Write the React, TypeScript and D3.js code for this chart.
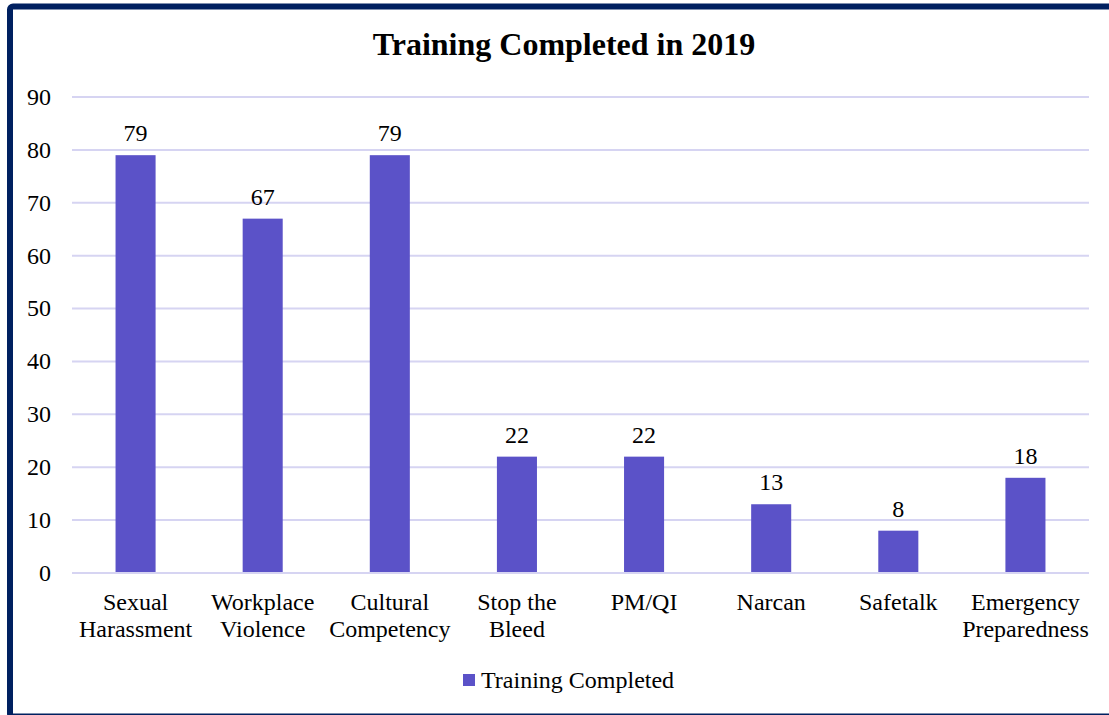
import React from "react";
import * as d3 from "d3";

const categories: string[][] = [
  ["Sexual", "Harassment"],
  ["Workplace", "Violence"],
  ["Cultural", "Competency"],
  ["Stop the", "Bleed"],
  ["PM/QI"],
  ["Narcan"],
  ["Safetalk"],
  ["Emergency", "Preparedness"],
];
const values: number[] = [79, 67, 79, 22, 22, 13, 8, 18];
const yTicks: number[] = [0, 10, 20, 30, 40, 50, 60, 70, 80, 90];
const seriesName = "Training Completed";
const title = "Training Completed in 2019";

const W = 1109;
const H = 715;
const left = 72;
const right = 1089;
const top = 97;
const bottom = 573;
const font = "'Liberation Serif', 'Times New Roman', serif";
const barColor = "#5b52c8";
const gridColor = "#d6d4f2";

export default function App() {
  const x = d3
    .scaleBand<number>()
    .domain(values.map((_, i) => i))
    .range([left, right])
    .paddingInner(0.685)
    .paddingOuter(0.3425);
  const y = d3.scaleLinear().domain([0, 90]).range([bottom, top]);

  return (
    <svg
      width={W}
      height={H}
      style={{ position: "absolute", left: 0, top: 0 }}
    >
      <rect x={0} y={0} width={W} height={H} fill="#ffffff" />
      <rect
        x={10}
        y={6.5}
        width={1120}
        height={710}
        rx={3}
        fill="none"
        stroke="#002060"
        strokeWidth={6}
      />
      <text
        x={564}
        y={55}
        textAnchor="middle"
        fontFamily={font}
        fontWeight="bold"
        fontSize={32}
        fill="#000"
      >
        {title}
      </text>
      {yTicks.map((t) => (
        <g key={t}>
          <line
            x1={left}
            x2={right}
            y1={y(t)}
            y2={y(t)}
            stroke={gridColor}
            strokeWidth={2}
          />
          <text
            x={51}
            y={y(t)}
            dy="0.33em"
            textAnchor="end"
            fontFamily={font}
            fontSize={24}
            fill="#000"
          >
            {t}
          </text>
        </g>
      ))}
      {values.map((v, i) => (
        <g key={i}>
          <rect
            x={x(i)!}
            y={y(v)}
            width={x.bandwidth()}
            height={bottom - 1 - y(v)}
            fill={barColor}
          />
          <text
            x={x(i)! + x.bandwidth() / 2}
            y={y(v) - 14}
            textAnchor="middle"
            fontFamily={font}
            fontSize={24}
            fill="#000"
          >
            {v}
          </text>
          <text
            x={x(i)! + x.bandwidth() / 2}
            y={610}
            textAnchor="middle"
            fontFamily={font}
            fontSize={24}
            fill="#000"
          >
            {categories[i].map((line, j) => (
              <tspan key={j} x={x(i)! + x.bandwidth() / 2} dy={j === 0 ? 0 : 27}>
                {line}
              </tspan>
            ))}
          </text>
        </g>
      ))}
      <rect x={463} y={674} width={12} height={12} fill={barColor} />
      <text x={481} y={688} fontFamily={font} fontSize={24} fill="#000">
        {seriesName}
      </text>
    </svg>
  );
}
